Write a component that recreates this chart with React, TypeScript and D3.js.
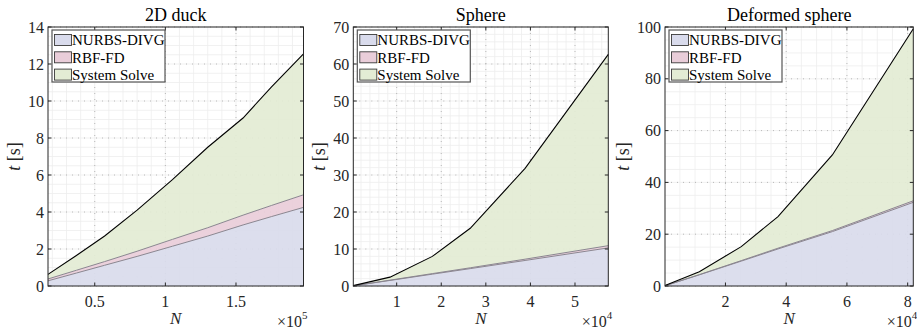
import React from "react";
import * as d3 from "d3";

// series names and colours
const seriesKeys = ["nurbs", "rbf", "solve"];
const seriesNames = ["NURBS-DIVG", "RBF-FD", "System Solve"];
const seriesFill = ["#d9dbec", "#e9cdd9", "#e3ecd4"];

// 2D duck
const duckN = [16900, 37000, 57000, 80000, 105000, 130000, 155000, 175000, 197800];
const duckNurbs = [0.28, 0.7, 1.12, 1.6, 2.15, 2.7, 3.3, 3.75, 4.25];
const duckRbf = [0.1, 0.15, 0.2, 0.28, 0.37, 0.45, 0.53, 0.6, 0.68];
const duckSolve = [0.25, 0.8, 1.38, 2.22, 3.23, 4.35, 5.25, 6.4, 7.62];
const duckXTicks = [50000, 100000, 150000];
const duckYTicks = [0, 2, 4, 6, 8, 10, 12, 14];

// Sphere
const sphereN = [270, 8500, 18000, 26500, 38800, 57470];
const sphereNurbs = [0.05, 1.5, 3.2, 4.7, 6.9, 10.3];
const sphereRbf = [0.01, 0.08, 0.15, 0.22, 0.35, 0.6];
const sphereSolve = [0.04, 0.82, 4.65, 10.68, 24.55, 51.7];
const sphereXTicks = [10000, 20000, 30000, 40000, 50000];
const sphereYTicks = [0, 10, 20, 30, 40, 50, 60, 70];

// Deformed sphere
const deformN = [100, 11400, 25200, 37300, 55200, 81850];
const deformNurbs = [0.08, 4.3, 9.6, 14.3, 21.0, 32.3];
const deformRbf = [0.01, 0.1, 0.2, 0.3, 0.4, 0.6];
const deformSolve = [0.11, 1.1, 5.4, 12.2, 29.2, 66.4];
const deformXTicks = [20000, 40000, 60000, 80000];
const deformYTicks = [0, 20, 40, 60, 80, 100];

const FONT = "Liberation Serif, Times New Roman, serif";
const TOP = 27;
const BOTTOM = 286;

function range(a, b, step) {
  const out = [];
  for (let v = a; v <= b + step * 1e-6; v += step) out.push(+v.toFixed(6));
  return out;
}

function Panel({ title, N, nurbs, rbf, solve, xTicks, yTicks, xMinor, yMinor, xDiv, exp, left, right, labelX }) {
  const x = d3.scaleLinear().domain([N[0], N[N.length - 1]]).range([left, right]);
  const y = d3.scaleLinear().domain([yTicks[0], yTicks[yTicks.length - 1]]).range([BOTTOM, TOP]);

  const rows = N.map((n, i) => ({ n, nurbs: nurbs[i], rbf: rbf[i], solve: solve[i] }));
  const stacked = d3.stack().keys(seriesKeys)(rows);

  const area = d3.area()
    .x((d) => x(d.data.n))
    .y0((d) => y(d[0]))
    .y1((d) => y(d[1]));
  const topLine = d3.line()
    .x((d) => x(d.data.n))
    .y((d) => y(d[1]));

  const xmin = x.domain()[0], xmax = x.domain()[1];
  const minorX = range(0, xmax, xMinor).filter((v) => v >= xmin);
  const minorY = range(yTicks[0], yTicks[yTicks.length - 1], yMinor);
  const cx = (left + right) / 2;
  const tick = 3.5;

  return (
    <g fontFamily={FONT} fill="#262626">
      <text x={cx} y={21} textAnchor="middle" fontSize={18} fill="#000">{title}</text>
      {/* grid */}
      {minorX.map((v) => (
        <line key={"mx" + v} x1={x(v)} x2={x(v)} y1={TOP} y2={BOTTOM} stroke="#ededed" strokeWidth={0.8} />
      ))}
      {minorY.map((v) => (
        <line key={"my" + v} x1={left} x2={right} y1={y(v)} y2={y(v)} stroke="#ededed" strokeWidth={0.8} />
      ))}
      {xTicks.map((v) => (
        <line key={"gx" + v} x1={x(v)} x2={x(v)} y1={TOP} y2={BOTTOM} stroke="#a8a8a8" strokeWidth={0.8} strokeDasharray="1 5" />
      ))}
      {yTicks.map((v) => (
        <line key={"gy" + v} x1={left} x2={right} y1={y(v)} y2={y(v)} stroke="#a8a8a8" strokeWidth={0.8} strokeDasharray="1 5" />
      ))}
      {/* stacked areas */}
      {stacked.map((s, i) => (
        <path key={"a" + i} d={area(s)} fill={seriesFill[i]} fillOpacity={0.92} />
      ))}
      {stacked.map((s, i) => (
        <path key={"l" + i} d={topLine(s)} fill="none"
          stroke={i === 2 ? "#000" : "#8a8690"} strokeWidth={i === 2 ? 1.1 : 1} />
      ))}
      {/* box */}
      <rect x={left} y={TOP} width={right - left} height={BOTTOM - TOP} fill="none" stroke="#262626" strokeWidth={1} />
      {xTicks.map((v) => (
        <g key={"tx" + v}>
          <line x1={x(v)} x2={x(v)} y1={BOTTOM} y2={BOTTOM - tick} stroke="#262626" />
          <line x1={x(v)} x2={x(v)} y1={TOP} y2={TOP + tick} stroke="#262626" />
          <text x={x(v)} y={307} textAnchor="middle" fontSize={16} fontFamily={FONT}>{d3.format("~g")(v / xDiv)}</text>
        </g>
      ))}
      {yTicks.map((v) => (
        <g key={"ty" + v}>
          <line x1={left} x2={left + tick} y1={y(v)} y2={y(v)} stroke="#262626" />
          <line x1={right} x2={right - tick} y1={y(v)} y2={y(v)} stroke="#262626" />
          <text x={left - 4} y={y(v)} dy="0.35em" textAnchor="end" fontSize={16} fontFamily={FONT}>{v}</text>
        </g>
      ))}
      {/* axis labels */}
      <text x={cx} y={324} textAnchor="middle" fontSize={17} fontStyle="italic" fontFamily={FONT}>N</text>
      <text x={right + 4} y={327} textAnchor="end" fontSize={16} fontFamily={FONT}>
        ×10<tspan fontSize={11} dy={-8}>{exp}</tspan>
      </text>
      <text transform={`translate(${labelX},${(TOP + BOTTOM) / 2}) rotate(-90)`} textAnchor="middle" fontSize={18} fontFamily={FONT}>
        <tspan fontStyle="italic">t</tspan> [s]
      </text>
      {/* legend */}
      <g transform={`translate(${left + 4},${TOP + 3})`}>
        <rect x={0} y={0} width={113} height={52} fill="#fff" stroke="#555" strokeWidth={1.2} />
        {seriesNames.map((name, i) => (
          <g key={name} transform={`translate(0,${10 + i * 17.3})`}>
            <rect x={2.5} y={-5.5} width={17} height={11} fill={seriesFill[i]} stroke="#3a3a3a" strokeWidth={0.9} />
            <text x={20} y={0} dy="0.35em" fontSize={15} fill="#000" fontFamily={FONT}>{name}</text>
          </g>
        ))}
      </g>
    </g>
  );
}

export default function App() {
  return (
    <svg width={917} height={333} fontFamily={FONT} style={{ position: "absolute", left: 0, top: 0, background: "#fff" }}>
      <Panel title="2D duck" N={duckN} nurbs={duckNurbs} rbf={duckRbf} solve={duckSolve}
        xTicks={duckXTicks} yTicks={duckYTicks} xMinor={10000} yMinor={0.5} xDiv={1e5} exp={5}
        left={48} right={303.5} labelX={20} />
      <Panel title="Sphere" N={sphereN} nurbs={sphereNurbs} rbf={sphereRbf} solve={sphereSolve}
        xTicks={sphereXTicks} yTicks={sphereYTicks} xMinor={2000} yMinor={2} xDiv={1e4} exp={4}
        left={353.3} right={608.3} labelX={325} />
      <Panel title="Deformed sphere" N={deformN} nurbs={deformNurbs} rbf={deformRbf} solve={deformSolve}
        xTicks={deformXTicks} yTicks={deformYTicks} xMinor={5000} yMinor={5} xDiv={1e4} exp={4}
        left={665} right={913.3} labelX={629} />
    </svg>
  );
}
